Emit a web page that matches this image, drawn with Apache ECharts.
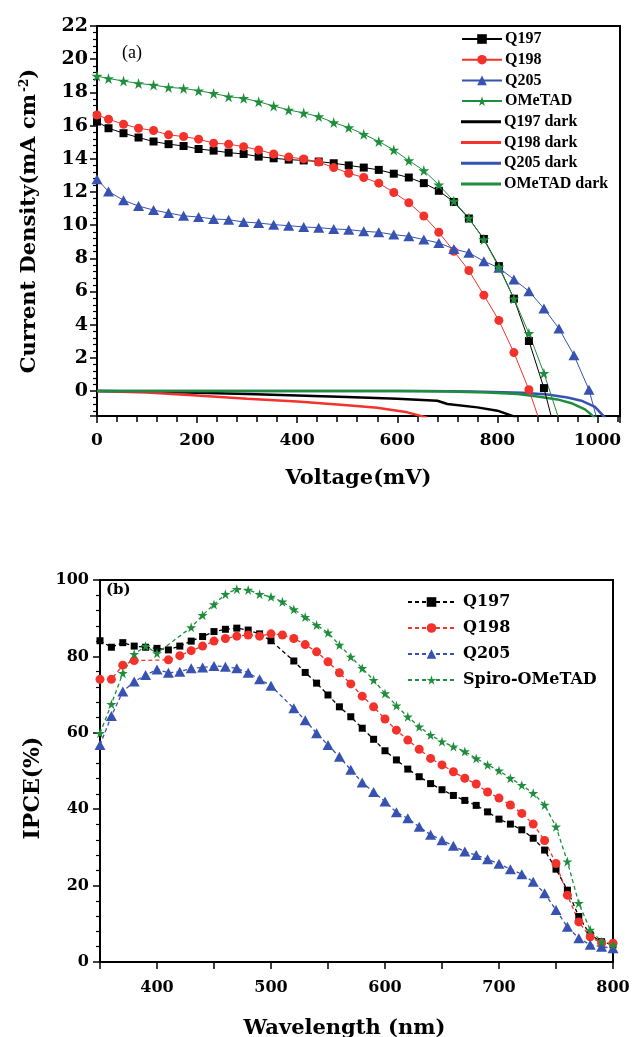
<!DOCTYPE html>
<html>
<head>
<meta charset="utf-8">
<script src="https://cdn.jsdelivr.net/npm/echarts@6/dist/echarts.min.js"></script>
<style>
html,body{margin:0;padding:0;background:#fff;}
#chart{width:632px;height:1037px;}
</style>
</head>
<body>
<div id="chart"></div>
<script>
// ---------- Panel (a): J-V curves ----------
const lightV = [0,23,53,83,113,143,173,203,233,263,293,323,353,383,413,443,473,503,533,563,593,623,653,683,713,743,773,803,833,863,893,923,953,983];
const q197J = [16.24,15.84,15.54,15.28,15.04,14.88,14.77,14.59,14.49,14.37,14.29,14.13,14.03,13.95,13.9,13.83,13.73,13.6,13.47,13.33,13.1,12.87,12.53,12.07,11.4,10.4,9.17,7.53,5.57,3.02,0.18];
const q197End = [910,-1.8];
const q198J = [16.64,16.38,16.08,15.84,15.7,15.44,15.34,15.18,14.94,14.88,14.73,14.53,14.29,14.1,13.99,13.8,13.47,13.13,12.87,12.53,11.97,11.35,10.55,9.57,8.43,7.27,5.78,4.26,2.32,0.08];
const q198End = [882,-1.6];
const q205J = [12.77,12.03,11.5,11.15,10.91,10.73,10.56,10.49,10.37,10.33,10.19,10.13,10.03,9.97,9.89,9.85,9.77,9.73,9.63,9.57,9.43,9.33,9.13,8.93,8.57,8.33,7.83,7.43,6.73,6.02,4.98,3.77,2.16,0.08];
const q205End = [1000,-1.8];
const ometadJ = [18.98,18.84,18.68,18.54,18.44,18.3,18.24,18.1,17.94,17.74,17.64,17.44,17.18,16.94,16.76,16.54,16.18,15.88,15.48,15.04,14.53,13.89,13.29,12.43,11.45,10.43,9.13,7.47,5.57,3.48,1.08];
const ometadEnd = [922,-1.6];

const q197DarkV = [0,100,200,300,400,500,600,680,700,760,800,840];
const q197DarkJ = [0,-0.03,-0.1,-0.18,-0.26,-0.36,-0.46,-0.58,-0.78,-0.98,-1.18,-1.6];
const q198DarkV = [0,100,200,300,400,500,560,620,660];
const q198DarkJ = [0,-0.08,-0.26,-0.46,-0.63,-0.85,-1.0,-1.28,-1.6];
const q205DarkV = [0,650,750,850,900,940,970,995,1015];
const q205DarkJ = [0,0,-0.03,-0.1,-0.2,-0.38,-0.6,-0.95,-1.6];
const ometadDarkV = [0,600,700,780,840,880,920,950,975,995];
const ometadDarkJ = [0,0,-0.02,-0.08,-0.18,-0.32,-0.5,-0.75,-1.1,-1.6];

const legendALight = ['Q197','Q198','Q205','OMeTAD'];
const legendADark = ['Q197 dark','Q198 dark','Q205 dark','OMeTAD dark'];

// ---------- Panel (b): IPCE ----------
const wavelength = [350,360,370,380,390,400,410,420,430,440,450,460,470,480,490,500,510,520,530,540,550,560,570,580,590,600,610,620,630,640,650,660,670,680,690,700,710,720,730,740,750,760,770,780,790,800];
const q197IPCE = [84.1,82.4,83.6,82.7,82.4,82.1,81.7,82.7,84.0,85.2,86.5,87.1,87.4,86.9,85.9,84.1,null,78.8,75.8,73.0,69.9,66.8,64.2,61.2,58.3,55.3,52.9,50.5,48.5,46.7,45.1,43.6,42.3,41.0,39.3,37.4,36.1,34.6,32.4,29.3,24.3,18.8,11.9,7.1,5.3,4.5];
const q198IPCE = [74.0,74.0,77.7,78.9,null,null,79.1,80.2,81.5,82.7,84.0,84.7,85.3,85.6,85.3,85.9,85.6,84.7,83.1,81.2,78.6,75.7,72.8,69.6,66.8,63.6,60.7,58.1,55.7,53.3,51.6,49.8,48.1,46.6,44.5,42.9,41.1,38.9,36.1,31.8,25.8,17.5,10.5,6.6,4.9,4.9];
const q205IPCE = [56.8,64.4,70.8,73.4,75.1,76.6,75.7,76.0,76.9,77.1,77.5,77.3,76.9,75.7,74.0,72.3,null,66.4,63.3,59.9,56.8,53.7,50.3,47.0,44.5,42.0,39.2,37.6,35.4,33.3,31.9,30.4,28.9,28.0,26.9,25.7,24.3,23.0,21.0,18.0,13.6,9.2,6.2,4.5,4.0,3.6];
const spiroIPCE = [59.9,67.5,75.6,80.6,82.7,80.8,null,null,87.6,90.8,93.6,96.3,97.6,97.4,96.3,95.6,94.3,92.3,90.3,88.2,86.2,83.0,79.9,76.9,73.8,70.3,67.1,64.2,61.6,59.4,57.7,56.4,55.1,53.3,51.6,50.1,48.1,46.3,44.2,41.1,35.4,26.3,15.4,8.4,5.3,4.5];
const legendB = ['Q197','Q198','Q205','Spiro-OMeTAD'];

// ---------- helpers ----------
const STAR = 'path://M50,0 L61,35 L98,35 L68,57 L79,91 L50,70 L21,91 L32,57 L2,35 L39,35 Z';
const C = {black:'#000000', red:'#f2322b', blue:'#3752b0', green:'#1f8e3c'};
const SERIF = 'DejaVu Serif';
const TIMES = 'Liberation Serif';

function pairs(xs, ys, end) {
  const out = ys.map((y, i) => [xs[i], y]);
  if (end) out.push(end);
  return out;
}

function lightSeries(name, color, symbol, size, data) {
  return {
    name, type: 'line', xAxisIndex: 0, yAxisIndex: 0, data,
    symbol, symbolSize: size, showAllSymbol: true,
    lineStyle: {color, width: 1}, itemStyle: {color},
    clip: true, z: 3, animation: false
  };
}
function darkSeries(name, color, data) {
  return {
    name, type: 'line', xAxisIndex: 0, yAxisIndex: 0, data,
    symbol: 'none', lineStyle: {color, width: 2.5}, itemStyle: {color},
    clip: true, z: 2, animation: false
  };
}
function ipceSeries(name, color, symbol, size, values) {
  return {
    name: name + '_b', type: 'line', xAxisIndex: 1, yAxisIndex: 1,
    data: wavelength.map((w, i) => [w, values[i]]),
    connectNulls: true, symbol, symbolSize: size, showAllSymbol: true,
    lineStyle: {color, width: 1.3, type: [4, 3]}, itemStyle: {color},
    clip: true, z: 3, animation: false
  };
}

const tickLabelA = {fontFamily: SERIF, fontWeight: 'bold', color: '#000', formatter: v => String(v)};
const axisLineStyle = {show: true, onZero: false, lineStyle: {color: '#000', width: 2}};
const legendTextA = {fontFamily: TIMES, fontSize: 16, fontWeight: 'bold', color: '#000', padding: [0, 0, 0, -2]};

const option = {
  animation: false,
  backgroundColor: '#fff',
  grid: [
    {left: 97, top: 26, width: 523, height: 390, show: true, borderColor: '#000', borderWidth: 2, outerBoundsMode: 'none', containLabel: false},
    {left: 100, top: 580, width: 513, height: 382, show: true, borderColor: '#000', borderWidth: 2, outerBoundsMode: 'none', containLabel: false}
  ],
  xAxis: [
    {
      gridIndex: 0, type: 'value', min: 0, max: 1045, interval: 200,
      axisLine: axisLineStyle,
      axisTick: {show: true, inside: false, length: 7, lineStyle: {color: '#000', width: 1.5}},
      minorTick: {show: true, splitNumber: 5, length: 6, lineStyle: {color: '#000', width: 1.5}},
      splitLine: {show: false}, minorSplitLine: {show: false},
      axisLabel: Object.assign({fontSize: 17, margin: 16, showMaxLabel: false}, tickLabelA),
      name: 'Voltage(mV)', nameLocation: 'middle', nameGap: 52,
      nameTextStyle: {fontFamily: SERIF, fontWeight: 'bold', fontSize: 21, color: '#000'}
    },
    {
      gridIndex: 1, type: 'value', min: 350, max: 800, minInterval: 100, maxInterval: 100, splitNumber: 5,
      axisLine: axisLineStyle,
      axisTick: {show: true, inside: false, length: 7, lineStyle: {color: '#000', width: 1.5}},
      minorTick: {show: true, splitNumber: 2, length: 7, lineStyle: {color: '#000', width: 1.5}},
      splitLine: {show: false}, minorSplitLine: {show: false},
      axisLabel: Object.assign({fontSize: 16, margin: 18, showMinLabel: false}, tickLabelA),
      name: 'Wavelength (nm)', nameLocation: 'middle', nameGap: 56,
      nameTextStyle: {fontFamily: SERIF, fontWeight: 'bold', fontSize: 21, color: '#000', padding: [0, 24, 0, 0]}
    }
  ],
  yAxis: [
    {
      gridIndex: 0, type: 'value', min: -1.5, max: 22, minInterval: 2, maxInterval: 2, splitNumber: 12,
      axisLine: axisLineStyle,
      axisTick: {show: true, inside: false, length: 7, lineStyle: {color: '#000', width: 1.5}},
      minorTick: {show: true, splitNumber: 5, length: 4, lineStyle: {color: '#000', width: 1.2}},
      splitLine: {show: false}, minorSplitLine: {show: false},
      axisLabel: Object.assign({fontSize: 19, margin: 9, showMinLabel: false}, tickLabelA),
      name: 'Current Density(mA cm{sup|-2})', nameLocation: 'middle', nameGap: 56,
      nameTextStyle: {
        fontFamily: SERIF, fontWeight: 'bold', fontSize: 21, color: '#000',
        rich: {sup: {fontFamily: SERIF, fontWeight: 'bold', fontSize: 12, color: '#000', verticalAlign: 'top', padding: [0, 0, 10, 2]}}
      }
    },
    {
      gridIndex: 1, type: 'value', min: 0, max: 100, interval: 20,
      axisLine: axisLineStyle,
      axisTick: {show: true, inside: false, length: 7, lineStyle: {color: '#000', width: 1.5}},
      minorTick: {show: true, splitNumber: 5, length: 4, lineStyle: {color: '#000', width: 1.2}},
      splitLine: {show: false}, minorSplitLine: {show: false},
      axisLabel: Object.assign({fontSize: 16, margin: 11}, tickLabelA),
      name: 'IPCE(%)', nameLocation: 'middle', nameGap: 52,
      nameTextStyle: {fontFamily: SERIF, fontWeight: 'bold', fontSize: 22, color: '#000', padding: [0, 0, 0, -34]}
    }
  ],
  legend: [
    {
      data: legendALight, orient: 'vertical', left: 456, top: 26,
      itemWidth: 40, itemHeight: 12, itemGap: 4.7, selectedMode: false,
      textStyle: legendTextA
    },
    {
      data: legendADark, orient: 'vertical', left: 456, top: 26 + 4 * 20.7,
      icon: 'rect', itemWidth: 40, itemHeight: 3, itemGap: 4.7, selectedMode: false,
      textStyle: legendTextA
    },
    {
      data: legendB.map(n => n + '_b'), orient: 'vertical', left: 402, top: 589,
      itemWidth: 47, itemHeight: 12, itemGap: 10, selectedMode: false,
      formatter: n => n.replace(/_b$/, ''),
      textStyle: {fontFamily: SERIF, fontSize: 16, fontWeight: 'bold', color: '#000', padding: [0, 0, 0, 3]}
    }
  ],
  graphic: [
    {type: 'text', left: 122, top: 44, style: {text: '(a)', font: '18px "Liberation Serif"', fill: '#000'}},
    {type: 'text', left: 106, top: 583, style: {text: '(b)', font: 'bold 15px "DejaVu Serif"', fill: '#000'}}
  ],
  series: [
    lightSeries('Q197', C.black, 'rect', 8, pairs(lightV, q197J, q197End)),
    lightSeries('Q198', C.red, 'circle', 9, pairs(lightV, q198J, q198End)),
    lightSeries('Q205', C.blue, 'triangle', [11, 10], pairs(lightV, q205J, q205End)),
    lightSeries('OMeTAD', C.green, STAR, 11, pairs(lightV, ometadJ, ometadEnd)),
    darkSeries('Q197 dark', C.black, pairs(q197DarkV, q197DarkJ)),
    darkSeries('Q198 dark', C.red, pairs(q198DarkV, q198DarkJ)),
    darkSeries('Q205 dark', C.blue, pairs(q205DarkV, q205DarkJ)),
    darkSeries('OMeTAD dark', C.green, pairs(ometadDarkV, ometadDarkJ)),
    ipceSeries('Q197', C.black, 'rect', 7, q197IPCE),
    ipceSeries('Q198', C.red, 'circle', 9, q198IPCE),
    ipceSeries('Q205', C.blue, 'triangle', [11, 10], q205IPCE),
    ipceSeries('Spiro-OMeTAD', C.green, STAR, 10, spiroIPCE)
  ]
};

const chart = echarts.init(document.getElementById('chart'), null, {renderer: 'canvas'});
chart.setOption(option);
</script>
</body>
</html>
